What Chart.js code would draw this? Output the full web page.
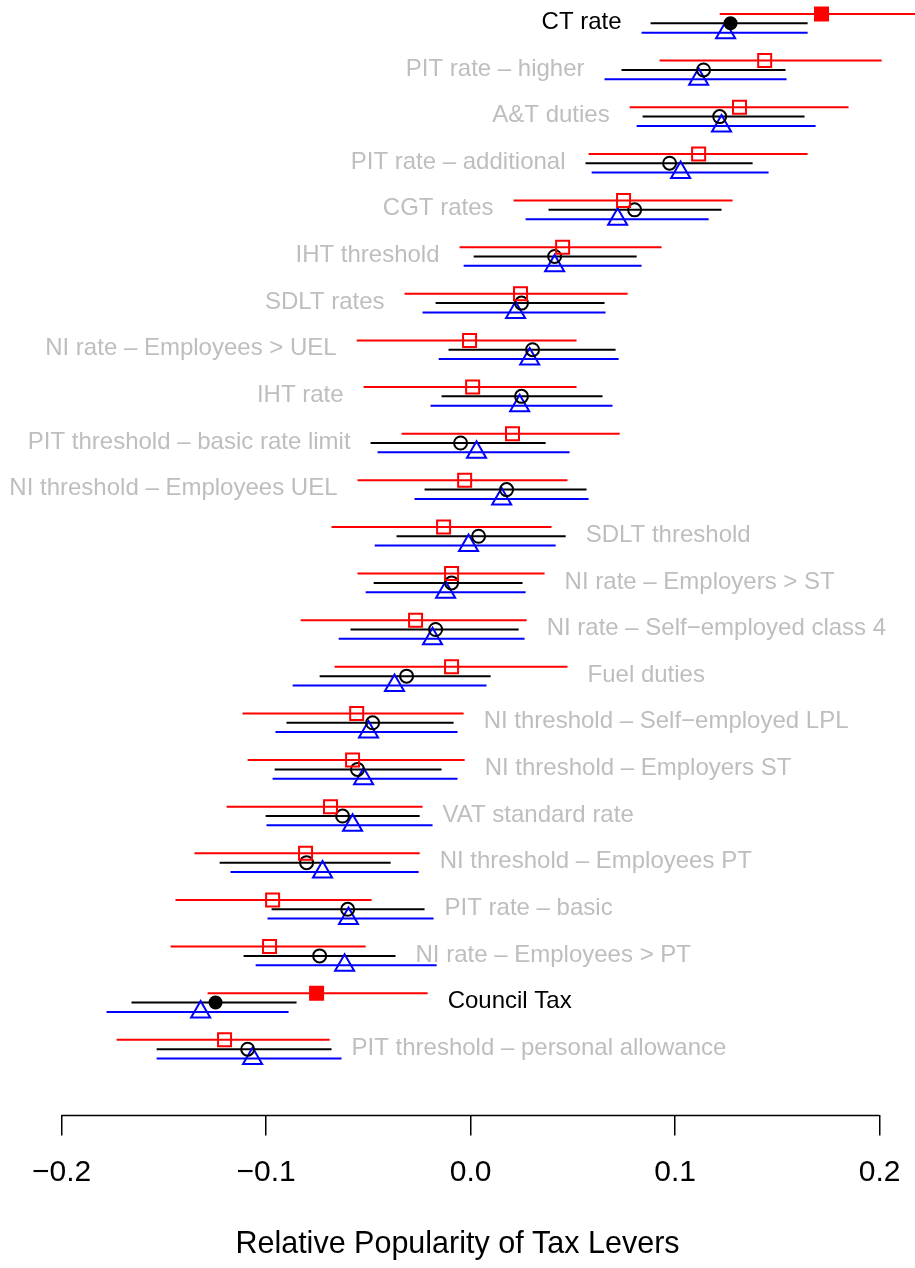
<!DOCTYPE html>
<html lang="en">
<head>
    <meta charset="UTF-8">
    <title>Relative Popularity of Tax Levers</title>
    <script src="https://cdn.jsdelivr.net/npm/chart.js"></script>
    <style>
        body {
            margin: 0;
            background: #fff;
        }
    </style>
</head>
<body>
    <canvas id="leverChart" width="915" height="1268"></canvas>

    <script>
        // rows, top to bottom
        const levers = ['CT rate', 'PIT rate \u2013 higher', 'A&T duties', 'PIT rate \u2013 additional', 'CGT rates',
            'IHT threshold', 'SDLT rates', 'NI rate \u2013 Employees > UEL', 'IHT rate', 'PIT threshold \u2013 basic rate limit',
            'NI threshold \u2013 Employees UEL', 'SDLT threshold', 'NI rate \u2013 Employers > ST',
            'NI rate \u2013 Self\u2212employed class 4', 'Fuel duties', 'NI threshold \u2013 Self\u2212employed LPL',
            'NI threshold \u2013 Employers ST', 'VAT standard rate', 'NI threshold \u2013 Employees PT',
            'PIT rate \u2013 basic', 'NI rate \u2013 Employees > PT', 'Council Tax', 'PIT threshold \u2013 personal allowance'];
        const highlighted = ['CT rate', 'Council Tax'];

        const redEst = [0.1716, 0.1438, 0.1315, 0.1115, 0.0748, 0.0450, 0.0244, -0.0005, 0.0010, 0.0205, -0.0029, -0.0132, -0.0093, -0.0269, -0.0093, -0.0557, -0.0577, -0.0685, -0.0807, -0.0968, -0.0983, -0.0753, -0.1203];
        const redLo = [0.1218, 0.0924, 0.0778, 0.0577, 0.0210, -0.0054, -0.0323, -0.0557, -0.0523, -0.0337, -0.0553, -0.0680, -0.0553, -0.0831, -0.0665, -0.1115, -0.1090, -0.1193, -0.1350, -0.1443, -0.1467, -0.1286, -0.1731];
        const redHi = [0.2214, 0.2010, 0.1848, 0.1648, 0.1281, 0.0934, 0.0768, 0.0518, 0.0518, 0.0729, 0.0474, 0.0396, 0.0362, 0.0274, 0.0474, -0.0034, -0.0029, -0.0235, -0.0249, -0.0484, -0.0513, -0.0210, -0.0689];

        const blackEst = [0.1271, 0.1139, 0.1218, 0.0973, 0.0802, 0.0411, 0.0249, 0.0303, 0.0249, -0.0049, 0.0176, 0.0039, -0.0093, -0.0171, -0.0313, -0.0479, -0.0553, -0.0626, -0.0802, -0.0601, -0.0738, -0.1247, -0.1090];
        const blackLo = [0.0880, 0.0738, 0.0841, 0.0562, 0.0381, 0.0015, -0.0171, -0.0108, -0.0142, -0.0489, -0.0225, -0.0362, -0.0474, -0.0587, -0.0738, -0.0900, -0.0958, -0.1002, -0.1227, -0.0973, -0.1110, -0.1658, -0.1535];
        const blackHi = [0.1648, 0.1540, 0.1633, 0.1379, 0.1227, 0.0812, 0.0655, 0.0709, 0.0645, 0.0367, 0.0567, 0.0465, 0.0254, 0.0235, 0.0098, -0.0083, -0.0142, -0.0249, -0.0391, -0.0225, -0.0367, -0.0851, -0.0680];

        const blueEst = [0.1247, 0.1115, 0.1227, 0.1027, 0.0719, 0.0411, 0.0220, 0.0289, 0.0240, 0.0029, 0.0152, -0.0010, -0.0122, -0.0186, -0.0372, -0.0499, -0.0523, -0.0577, -0.0724, -0.0597, -0.0616, -0.1320, -0.1066];
        const blueLo = [0.0836, 0.0655, 0.0812, 0.0592, 0.0269, -0.0034, -0.0235, -0.0156, -0.0196, -0.0455, -0.0274, -0.0469, -0.0513, -0.0645, -0.0870, -0.0954, -0.0968, -0.0998, -0.1174, -0.0993, -0.1051, -0.1780, -0.1535];
        const blueHi = [0.1648, 0.1545, 0.1687, 0.1457, 0.1164, 0.0836, 0.0660, 0.0724, 0.0694, 0.0484, 0.0577, 0.0416, 0.0269, 0.0264, 0.0078, -0.0064, -0.0064, -0.0186, -0.0254, -0.0181, -0.0166, -0.0890, -0.0631];

        const xTicks = [-0.2, -0.1, 0, 0.1, 0.2];
        const xTickLabels = ['\u22120.2', '\u22120.1', '0.0', '0.1', '0.2'];

        // first rows get their label on the left, the rest on the right
        const leftLabelRows = 11;
        const rowShift = 0.2;
        const font = "'Liberation Sans', Arial, Helvetica, sans-serif";

        function series(est, lo, hi, shift) {
            return est.map((v, i) => ({ x: v, y: i + shift, lo: lo[i], hi: hi[i] }));
        }
        const isHi = levers.map(l => highlighted.includes(l));

        // horizontal interval lines behind the markers
        const intervalPlugin = {
            id: 'intervals',
            beforeDatasetsDraw(chart) {
                const ctx = chart.ctx;
                const xs = chart.scales.x;
                ctx.save();
                chart.data.datasets.forEach((ds, d) => {
                    const meta = chart.getDatasetMeta(d);
                    ctx.strokeStyle = ds.borderColor;
                    ctx.lineWidth = 2;
                    ds.data.forEach((p, i) => {
                        const y = meta.data[i].y;
                        ctx.beginPath();
                        ctx.moveTo(xs.getPixelForValue(p.lo), y);
                        ctx.lineTo(xs.getPixelForValue(p.hi), y);
                        ctx.stroke();
                    });
                });
                ctx.restore();
            }
        };

        const labelPlugin = {
            id: 'rowLabels',
            afterDatasetsDraw(chart) {
                const ctx = chart.ctx;
                const xs = chart.scales.x;
                const ys = chart.scales.y;
                ctx.save();
                ctx.font = '24px ' + font;
                ctx.textBaseline = 'middle';
                levers.forEach((name, i) => {
                    const y = ys.getPixelForValue(i) - 1;
                    ctx.fillStyle = isHi[i] ? '#000000' : '#BEBEBE';
                    if (i < leftLabelRows) {
                        ctx.textAlign = 'right';
                        const lo = Math.min(redLo[i], blackLo[i], blueLo[i]);
                        ctx.fillText(name, xs.getPixelForValue(lo) - 20, y);
                    } else {
                        ctx.textAlign = 'left';
                        const hi = Math.max(redHi[i], blackHi[i]);
                        ctx.fillText(name, xs.getPixelForValue(hi) + 20, y);
                    }
                });
                // axis line only between the outer ticks
                const bottom = chart.chartArea.bottom;
                ctx.strokeStyle = '#000';
                ctx.lineWidth = 1.5;
                ctx.beginPath();
                ctx.moveTo(xs.getPixelForValue(xTicks[0]), bottom);
                ctx.lineTo(xs.getPixelForValue(xTicks[xTicks.length - 1]), bottom);
                ctx.stroke();
                ctx.restore();
            }
        };

        const ctx = document.getElementById('leverChart').getContext('2d');
        new Chart(ctx, {
            type: 'scatter',
            data: {
                datasets: [
                    {
                        data: series(redEst, redLo, redHi, -rowShift),
                        borderColor: '#FF0000',
                        backgroundColor: isHi.map(h => h ? '#FF0000' : 'rgba(0,0,0,0)'),
                        pointStyle: 'rect',
                        pointRadius: 9.2,
                        pointBorderWidth: 2
                    },
                    {
                        data: series(blackEst, blackLo, blackHi, 0),
                        borderColor: '#000000',
                        backgroundColor: isHi.map(h => h ? '#000000' : 'rgba(0,0,0,0)'),
                        pointStyle: 'circle',
                        pointRadius: isHi.map(h => h ? 6 : 6.5),
                        pointBorderWidth: 2
                    },
                    {
                        data: series(blueEst, blueLo, blueHi, rowShift),
                        borderColor: '#0000FF',
                        backgroundColor: 'rgba(0,0,0,0)',
                        pointStyle: 'triangle',
                        pointRadius: 11,
                        pointBorderWidth: 2
                    }
                ]
            },
            options: {
                responsive: false,
                animation: false,
                layout: { padding: 0, autoPadding: false },
                plugins: {
                    legend: { display: false },
                    tooltip: { enabled: false }
                },
                scales: {
                    x: {
                        type: 'linear',
                        min: -0.2301,
                        max: 0.2173,
                        afterBuildTicks: axis => {
                            axis.ticks = xTicks.map(v => ({ value: v }));
                        },
                        // keep the plot full width, the end labels fit anyway
                        afterFit: axis => {
                            axis.paddingLeft = 0;
                            axis.paddingRight = 0;
                        },
                        grid: {
                            drawOnChartArea: false,
                            drawTicks: true,
                            tickLength: 20,
                            tickColor: '#000',
                            lineWidth: 1.5
                        },
                        border: { display: false },
                        ticks: {
                            autoSkip: false,
                            maxRotation: 0,
                            padding: 19,
                            color: '#000',
                            font: { family: font, size: 30 },
                            callback: (value, index) => xTickLabels[index]
                        },
                        title: {
                            display: true,
                            text: 'Relative Popularity of Tax Levers',
                            color: '#000',
                            font: { family: font, size: 30.5 },
                            padding: { top: 17, bottom: 5 }
                        }
                    },
                    y: {
                        type: 'linear',
                        display: false,
                        reverse: true,
                        min: -0.5,
                        max: 23.42
                    }
                }
            },
            plugins: [intervalPlugin, labelPlugin]
        });
    </script>
</body>
</html>
